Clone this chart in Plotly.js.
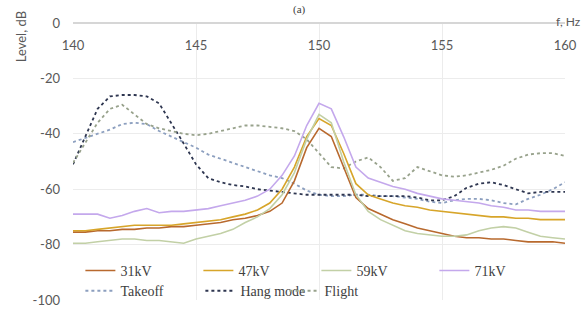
<!DOCTYPE html>
<html><head><meta charset="utf-8">
<script src="https://cdn.plot.ly/plotly-3.0.1.min.js"></script>
<style>html,body{margin:0;padding:0;background:#fff}#c{width:587px;height:329px}</style>
</head><body><div id="c"></div>
<script>
const freq = [140,140.5,141,141.5,142,142.5,143,143.5,144,144.5,145,145.5,146,146.5,147,147.5,148,148.5,149,149.5,150,150.5,151,151.5,152,152.5,153,153.5,154,154.5,155,155.5,156,156.5,157,157.5,158,158.5,159,159.5,160];
const kv31 = [-75.5,-75.5,-75,-75,-74.5,-74.5,-74,-74,-73.5,-73.5,-73,-72.5,-72,-71,-70.5,-69.5,-68,-65,-57,-45,-38,-41,-52,-63,-67,-69,-71,-72.5,-74,-75,-76,-77,-77.5,-77.5,-78,-78,-78.5,-79,-79,-79,-79.5];
const kv47 = [-75,-75,-74.5,-74,-73.5,-73,-73,-73,-73,-72.5,-72,-71.5,-71,-70,-69,-67.5,-65,-60,-52,-41,-34.5,-37,-47,-58,-62,-63.5,-65,-66,-66.5,-67.5,-68,-68.5,-69,-69.5,-70,-70,-70.5,-70.5,-71,-71,-71];
const kv59 = [-79.5,-79.5,-79,-78.5,-78,-78,-78.5,-78.5,-79,-79.5,-78,-77,-76,-74.5,-72,-70,-67,-62,-54,-42,-33,-36,-50,-62,-68,-71,-73,-75,-76,-76.5,-77,-77,-76.5,-75,-74,-73.5,-74,-75.5,-77,-77.5,-78];
const kv71 = [-69,-69,-69,-70.5,-69.5,-68,-67,-68.5,-68,-68,-67.5,-67,-66,-65,-64,-62.5,-60,-55,-48,-37,-29,-31,-41,-52,-56,-57.5,-59,-60,-61.5,-62.5,-63.5,-64,-64.5,-65,-66,-66.5,-67.5,-67.5,-68,-68,-68];
const takeoff = [-43,-41.5,-40,-38.5,-36.5,-36,-36.5,-39,-41,-43,-45,-47.5,-49,-50.5,-52,-53.5,-55,-56,-58,-60.5,-62,-62.5,-62.5,-62,-62,-62.5,-62.5,-63,-63.5,-64.5,-65,-64,-63.5,-63.5,-64,-65,-65.5,-63.5,-62,-60,-57.5];
const hang = [-51,-41,-31,-26.5,-26,-26,-26.5,-29,-36,-43.5,-51,-56,-57.5,-58.5,-59,-60,-60.5,-61,-61.5,-62,-62,-62,-62,-62,-62.5,-62.5,-62.5,-62.5,-63,-64,-64,-62.5,-59.5,-58,-57.5,-58.5,-60,-61.5,-61,-61,-61];
const flight = [-50.5,-43,-36,-31,-29.5,-33,-36.5,-38,-39,-40,-40.5,-40,-39,-38,-37,-37,-37.5,-38,-39,-42,-47,-52,-52.5,-50,-48.5,-52,-57,-56,-52,-53.5,-55,-55.5,-55,-54,-53,-51.5,-49,-47.5,-47,-47,-48];
const xTicks = [140,145,150,155,160];
const yTicks = [0,-20,-40,-60,-80,-100];

const solid = (name, y, color) => ({x: freq, y: y, name: name, type: 'scatter', mode: 'lines',
  line: {color: color, width: 1.6}, legend: 'legend'});
const dotted = (name, y, color, lg) => ({x: freq, y: y, name: name, type: 'scatter', mode: 'lines',
  line: {color: color, width: 1.8, dash: 'dot'}, legend: lg});

const data = [
  dotted('Takeoff', takeoff, '#8c9fbf', 'legend2'),
  dotted('Hang mode', hang, '#2e3650', 'legend2'),
  dotted('Flight', flight, '#98a28c', 'legend3'),
  solid('31kV', kv31, '#b8692e'),
  solid('47kV', kv47, '#d7a52a'),
  solid('59kV', kv59, '#c2d0a6'),
  solid('71kV', kv71, '#c4a8ec')
];

const legFont = {family: 'Liberation Serif, serif', size: 14, color: '#404040'};
const tickFont = {family: 'Lato, sans-serif', size: 13, color: '#595959'};

const layout = {
  width: 587, height: 329,
  margin: {l: 73, r: 22, t: 23, b: 29},
  paper_bgcolor: '#fff', plot_bgcolor: '#fff',
  showlegend: true,
  xaxis: {range: [140, 160], side: 'top', tickvals: xTicks, ticktext: xTicks.map(String),
    ticklabelposition: 'inside', ticklabeloverflow: 'allow', ticklabelstandoff: 15,
    showgrid: true, gridcolor: '#ececec', gridwidth: 1, zeroline: false,
    showline: false, ticks: '', tickfont: tickFont},
  yaxis: {range: [-100, 0], tickvals: yTicks, ticktext: yTicks.map(String),
    showgrid: true, gridcolor: '#ececec', zeroline: true, zerolinecolor: '#d6d6d6', zerolinewidth: 1.5,
    showline: false, ticks: '', ticklabelstandoff: 12, tickfont: tickFont},
  legend: {orientation: 'h', x: 0.015, xanchor: 'left', y: 0.105, yanchor: 'middle',
    entrywidth: 73, entrywidthmode: 'pixels', traceorder: 'normal', bgcolor: 'rgba(255,255,255,0)',
    font: legFont},
  legend2: {orientation: 'h', x: 0.015, xanchor: 'left', y: 0.032, yanchor: 'middle',
    entrywidth: 75, entrywidthmode: 'pixels', traceorder: 'normal', bgcolor: 'rgba(255,255,255,0)',
    font: legFont},
  legend3: {orientation: 'h', x: 0.43, xanchor: 'left', y: 0.032, yanchor: 'middle',
    traceorder: 'normal', bgcolor: 'rgba(255,255,255,0)', font: legFont},
  annotations: [
    {text: 'f, Hz', xref: 'paper', yref: 'paper', x: 1.037, y: 1.005, xanchor: 'right', yanchor: 'middle',
      showarrow: false, font: {family: 'Lato, sans-serif', size: 12, color: '#595959'}},
    {text: 'Level, dB', xref: 'paper', yref: 'paper', x: -0.105, y: 0.95, xanchor: 'center', yanchor: 'middle',
      textangle: -90, showarrow: false, font: {family: 'Lato, sans-serif', size: 13, color: '#595959'}},
    {text: '(a)', xref: 'paper', yref: 'paper', x: 0.46, y: 1.078, xanchor: 'center', yanchor: 'top',
      showarrow: false, font: {family: 'Liberation Serif, serif', size: 11, color: '#404040'}}
  ]
};
Plotly.newPlot('c', data, layout, {displayModeBar: false, staticPlot: true});
</script></body></html>
